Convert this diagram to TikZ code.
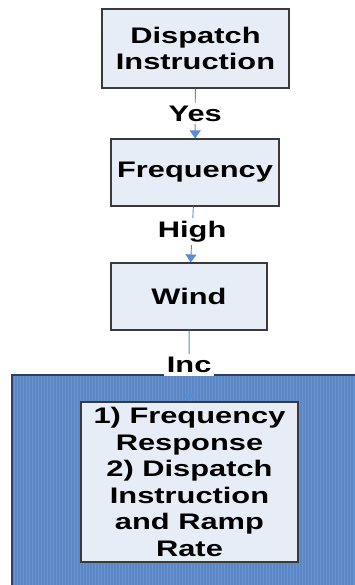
\documentclass[tikz,border=0pt]{standalone}
\usepackage{fontspec}
\setmainfont[FakeStretch=1.37]{Liberation Sans}
\usetikzlibrary{arrows.meta}
\definecolor{boxfill}{HTML}{E7EDF7}
\definecolor{boxdraw}{HTML}{3A3A3A}
\definecolor{conncol}{HTML}{5B8BD0}
\definecolor{bigfill}{HTML}{5B87C7}
\definecolor{stripecol}{HTML}{6B94CF}
\definecolor{bigdraw}{HTML}{2B3F66}
\begin{document}
\begin{tikzpicture}[x=1pt,y=1pt,
  txt/.style={font=\fontsize{22.5}{26.6}\selectfont\bfseries, text=black},
  flowbox/.style={txt, draw=boxdraw, line width=1.1pt, fill=boxfill, inner sep=0pt, align=center},
  conn/.style={draw=conncol, line width=0.9pt, -{Triangle[width=11pt,length=8pt]}},
  lbl/.style={txt, fill=white, inner sep=3pt}]
\useasboundingbox (0,0) rectangle (355,-585);
\begin{scope}
\clip (0,0) rectangle (355,-585);
\fill[bigfill] (12,-375) rectangle (360,-590);
\foreach \x in {14,17,...,356} \draw[stripecol, line width=0.8pt] (\x,-376) -- (\x,-590);
\draw[bigdraw, line width=1.2pt] (12,-590) -- (12,-375) -- (360,-375);
\end{scope}
\node[flowbox, minimum width=187pt, minimum height=79pt] (b1) at (195.5,-48.5) {Dispatch\\Instruction};
\node[flowbox, minimum width=168pt, minimum height=67pt] (b2) at (195,-172.5) {Frequency};
\node[flowbox, minimum width=156pt, minimum height=67pt] (b3) at (189,-296.5) {Wind};
\node[flowbox, minimum width=217pt, minimum height=160pt] (b4) at (189.5,-482) {1) Frequency\\Response\\2) Dispatch\\Instruction\\and Ramp\\Rate};
\draw[conn] (b1) -- node[lbl] (l1) {Yes} (b2);
\draw[conn] (b2) -- node[lbl, pos=0.45] (l2) {High} (b3);
\draw[conn] (b3) -- node[lbl, pos=0.49] (l3) {Inc} (b4);
\end{tikzpicture}
\end{document}
